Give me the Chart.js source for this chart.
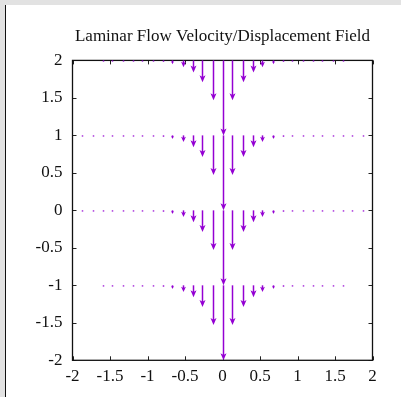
<!DOCTYPE html>
<html>
<head>
<meta charset="utf-8">
<script src="https://cdn.jsdelivr.net/npm/chart.js@4.4.1/dist/chart.umd.min.js"></script>
<style>
  html, body { margin: 0; padding: 0; }
  body { width: 401px; height: 397px; background: #e2e2e2; position: relative; overflow: hidden; }
  #sheet { position: absolute; left: 5px; top: 5px; right: 0; bottom: 0; background: #fff; border-left: 1.5px solid #111; }
  #vec { position: absolute; left: 0; top: 0; }
</style>
</head>
<body>
<div id="sheet"></div>
<canvas id="vec" width="401" height="397"></canvas>
<script>
"use strict";

// x positions of the vectors in each row
const xPos = [-1.867, -1.733, -1.6, -1.467, -1.333, -1.2, -1.067, -0.933, -0.8, -0.667, -0.533, -0.4, -0.267, -0.133,
    0,
    0.133, 0.267, 0.4, 0.533, 0.667, 0.8, 0.933, 1.067, 1.2, 1.333, 1.467, 1.6, 1.733, 1.867];
// downward displacement at each x (same in every row)
const dy = [-0.015, -0.015, -0.015, -0.015, -0.015, -0.015, -0.02, -0.02, -0.03, -0.05, -0.09, -0.16, -0.29, -0.53,
    -1.0,
    -0.53, -0.29, -0.16, -0.09, -0.05, -0.03, -0.02, -0.02, -0.015, -0.015, -0.015, -0.015, -0.015, -0.015];
// rows of vectors and how far each row reaches
const rowY = [2, 1, 0, -1];
const rowReach = [1.6, 1.9, 1.9, 1.6];
// tick values
const xTicks = [-2, -1.5, -1, -0.5, 0, 0.5, 1, 1.5, 2];
const yTicks = [-2, -1.5, -1, -0.5, 0, 0.5, 1, 1.5, 2];

const violet = "#9400d3";
const serif = "'Liberation Serif', 'DejaVu Serif', serif";

const datasets = rowY.map((yv, r) => ({
    label: "row " + yv,
    data: xPos.map((xv, i) => ({ x: xv, y: yv, dy: dy[i] })).filter(p => Math.abs(p.x) <= rowReach[r]),
    pointRadius: 0,
    showLine: false
}));

const frameAndArrows = {
    id: "frameAndArrows",
    beforeDatasetsDraw(chart) {
        const { ctx, chartArea: a, scales } = chart;
        ctx.save();
        ctx.strokeStyle = "#222";
        ctx.lineWidth = 1;
        xTicks.forEach(v => {
            const p = Math.round(scales.x.getPixelForValue(v)) + 0.5;
            ctx.beginPath();
            ctx.moveTo(p, a.bottom); ctx.lineTo(p, a.bottom - 4);
            ctx.moveTo(p, a.top); ctx.lineTo(p, a.top + 4);
            ctx.stroke();
        });
        yTicks.forEach(v => {
            const p = Math.round(scales.y.getPixelForValue(v)) + 0.5;
            ctx.beginPath();
            ctx.moveTo(a.left, p); ctx.lineTo(a.left + 4, p);
            ctx.moveTo(a.right, p); ctx.lineTo(a.right - 4, p);
            ctx.stroke();
        });
        ctx.lineWidth = 1.3;
        ctx.strokeStyle = "#111";
        ctx.strokeRect(a.left, a.top, a.right - a.left, a.bottom - a.top);
        ctx.restore();
    },
    afterDatasetsDraw(chart) {
        const { ctx, scales } = chart;
        ctx.save();
        ctx.strokeStyle = violet;
        ctx.fillStyle = violet;
        ctx.lineWidth = 1.5;
        chart.data.datasets.forEach(ds => {
            ds.data.forEach(pt => {
                const px = Math.round(scales.x.getPixelForValue(pt.x)) + 0.5;
                const y0 = scales.y.getPixelForValue(pt.y);
                let y1 = scales.y.getPixelForValue(pt.y + pt.dy);
                if (y1 - y0 < 2) y1 = y0 + 2;
                const len = y1 - y0;
                const hl = Math.min(7, len * 0.8);
                const hw = Math.min(3, hl * 0.45);
                ctx.beginPath();
                ctx.moveTo(px, y0);
                ctx.lineTo(px, y1 - hl * 0.5);
                ctx.stroke();
                if (len > 3) {
                    ctx.beginPath();
                    ctx.moveTo(px, y1);
                    ctx.lineTo(px - hw, y1 - hl);
                    ctx.lineTo(px, y1 - hl * 0.75);
                    ctx.lineTo(px + hw, y1 - hl);
                    ctx.closePath();
                    ctx.fill();
                }
            });
        });
        ctx.restore();
    }
};

new Chart(document.getElementById("vec"), {
    type: "scatter",
    data: { datasets: datasets },
    plugins: [frameAndArrows],
    options: {
        responsive: false,
        animation: false,
        devicePixelRatio: 1,
        layout: { padding: { left: 0, right: 28.5, top: 0, bottom: 0 } },
        plugins: {
            legend: { display: false },
            tooltip: { enabled: false },
            title: {
                display: true,
                fullSize: false,
                text: "Laminar Flow Velocity/Displacement Field",
                color: "#111",
                font: { family: serif, size: 17, weight: "normal", lineHeight: 1.2 },
                padding: { top: 26, bottom: 14 }
            }
        },
        scales: {
            x: {
                type: "linear",
                min: -2,
                max: 2,
                grid: { display: false, drawTicks: false },
                border: { display: false },
                afterBuildTicks: axis => { axis.ticks = xTicks.map(v => ({ value: v })); },
                afterFit: axis => { axis.height = 36.7; },
                ticks: {
                    color: "#111",
                    padding: 6,
                    maxRotation: 0,
                    autoSkip: false,
                    font: { family: serif, size: 17 },
                    callback: v => String(v)
                }
            },
            y: {
                type: "linear",
                min: -2,
                max: 2,
                grid: { display: false, drawTicks: false },
                border: { display: false },
                afterBuildTicks: axis => { axis.ticks = yTicks.map(v => ({ value: v })); },
                afterFit: axis => { axis.width = 72.5; },
                ticks: {
                    color: "#111",
                    padding: 10,
                    autoSkip: false,
                    font: { family: serif, size: 17 },
                    callback: v => String(v)
                }
            }
        }
    }
});
</script>
</body>
</html>
